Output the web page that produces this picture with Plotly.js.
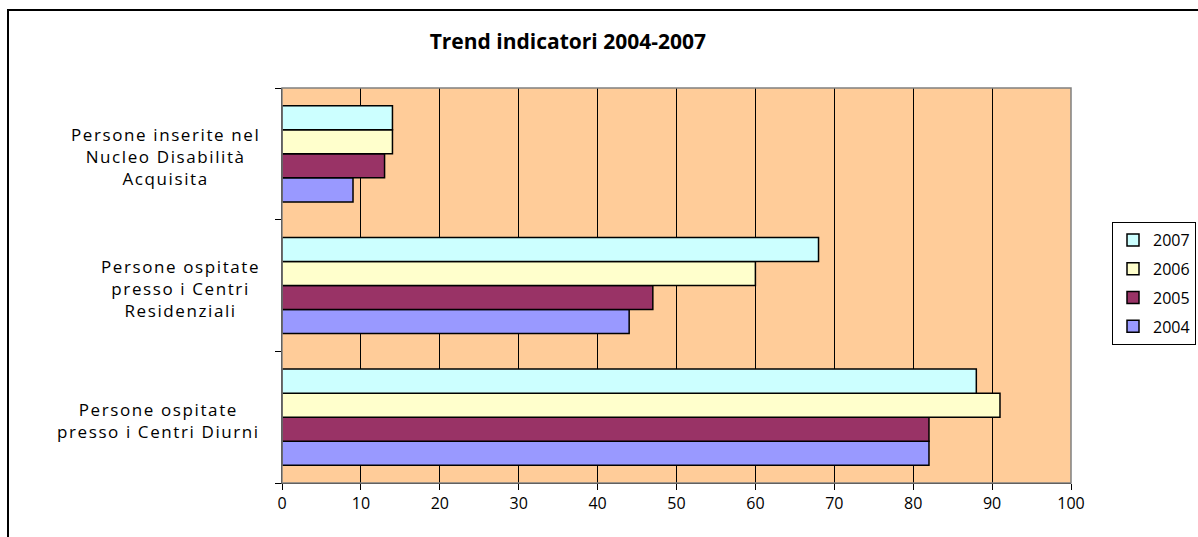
<!DOCTYPE html>
<html>
<head>
<meta charset="utf-8">
<script src="https://cdn.plot.ly/plotly-3.0.1.min.js"></script>
<style>
html,body{margin:0;padding:0;background:#fff;}
#chart{width:1198px;height:537px;}
.annotation-text{letter-spacing:1.6px;}
</style>
</head>
<body>
<div id="chart"></div>
<script>
const categories = [
  "Persone ospitate<br>presso i Centri Diurni",
  "Persone ospitate<br>presso i Centri<br>Residenziali",
  "Persone inserite nel<br>Nucleo Disabilità<br>Acquisita"
];
const years = ["2004", "2005", "2006", "2007"];
const v2004 = [82, 44, 9];
const v2005 = [82, 47, 13];
const v2006 = [91, 60, 14];
const v2007 = [88, 68, 14];
const xTicks = [0, 10, 20, 30, 40, 50, 60, 70, 80, 90, 100];
const colors = ["#9999FF", "#993366", "#FFFFCC", "#CCFFFF"];
const seriesValues = [v2004, v2005, v2006, v2007];

const traces = years.map((yr, i) => ({
  type: "bar",
  orientation: "h",
  name: yr,
  legendgroup: yr,
  legendrank: 1000 - i,
  x: seriesValues[i],
  y: categories,
  marker: {color: colors[i], line: {color: "#000", width: 1.5}},
  hoverinfo: "x+name"
}));

const fontFam = "Open Sans, Liberation Sans, sans-serif";

const annotations = categories.map(c => ({
  xref: "paper", yref: "y", x: 0, y: c, xanchor: "right", yanchor: "middle",
  xshift: -20, yshift: -3, text: c, showarrow: false, align: "center",
  font: {family: fontFam, size: 17, color: "#000"}
}));

const layout = {
  width: 1198, height: 537,
  margin: {l: 282, r: 127, t: 88, b: 54, autoexpand: false},
  paper_bgcolor: "#fff",
  plot_bgcolor: "#FFCC99",
  barmode: "group",
  bargap: 0.27,
  bargroupgap: 0,
  title: {text: "<b>Trend indicatori 2004-2007</b>", x: 0.474, xref: "container", xanchor: "center",
          y: 1 - 42/537, yref: "container", yanchor: "middle",
          font: {family: fontFam, size: 21, color: "#000"}},
  xaxis: {range: [0, 100], tickvals: xTicks, ticktext: xTicks.map(String),
          showgrid: true, gridcolor: "#000", gridwidth: 1, zeroline: false,
          showline: true, linecolor: "#000", linewidth: 1,
          ticks: "outside", ticklen: 6, tickcolor: "#000",
          tickfont: {family: fontFam, size: 16, color: "#000"}, fixedrange: true},
  yaxis: {type: "category", categoryarray: categories, showticklabels: false,
          showline: true, linecolor: "#000", linewidth: 1,
          ticks: "outside", ticklen: 6, tickcolor: "#000", tickson: "boundaries",
          showgrid: false, fixedrange: true},
  legend: {xref: "container", yref: "container", x: 1112/1198, xanchor: "left",
           y: 1 - 222/537, yanchor: "top", traceorder: "grouped",
           bordercolor: "#000", borderwidth: 1, bgcolor: "#fff",
           font: {family: fontFam, size: 16, color: "#000"}, tracegroupgap: 5, itemwidth: 30},
  annotations: annotations,
  shapes: [
    {type: "rect", xref: "paper", yref: "paper", x0: 0, x1: 1, y0: 0, y1: 1,
     line: {color: "#808080", width: 1.5}, layer: "above"},
    {type: "rect", xref: "paper", yref: "paper", x0: (8-282)/789, x1: 1.25, y0: -0.3, y1: (483-10)/395,
     line: {color: "#000", width: 2}, layer: "above"}
  ],
  showlegend: true
};

Plotly.newPlot("chart", traces, layout, {displayModeBar: false, staticPlot: true});
</script>
</body>
</html>
